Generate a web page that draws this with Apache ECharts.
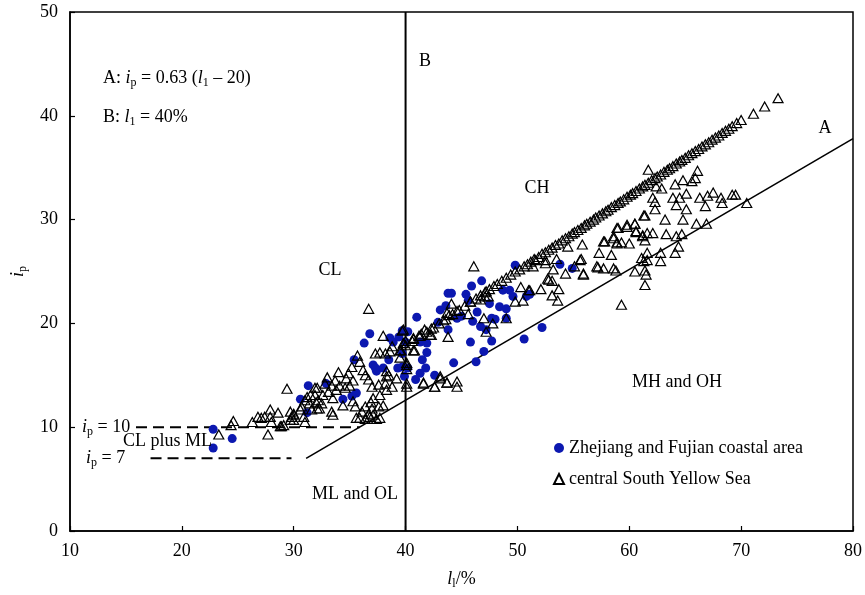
<!DOCTYPE html>
<html>
<head>
<meta charset="utf-8">
<script src="https://cdn.jsdelivr.net/npm/echarts@6/dist/echarts.min.js"></script>
<style>
  html, body { margin: 0; padding: 0; background: #fff; }
  #chart { width: 865px; height: 595px; }
</style>
</head>
<body>
<div id="chart"></div>
<script>
// Plasticity chart: liquid limit l_l (%) against plasticity index i_p

const X_TICKS = [10, 20, 30, 40, 50, 60, 70, 80];
const Y_TICKS = [0, 10, 20, 30, 40, 50];

// Zhejiang and Fujian coastal area samples [l_l, i_p]
const coastal = [
  [22.8,9.8],[24.5,8.9],[22.8,8.0],[31.3,14.0],[32.9,14.2],[30.6,12.7],[31.2,11.4],
  [35.4,16.5],[36.3,18.1],[36.8,19.0],[35.6,13.3],[34.4,12.7],[35.2,13.0],[37.1,16.0],
  [37.4,15.4],[38.0,15.7],[38.6,18.6],[38.9,18.2],[38.5,16.5],[39.3,15.7],[39.4,18.7],
  [39.7,17.1],[40.2,19.2],[40.2,15.7],[39.9,14.9],[41.0,20.6],[41.3,18.2],[41.9,18.1],
  [41.9,17.2],[41.5,16.5],[41.8,15.7],[41.3,15.2],[40.9,14.6],[42.6,15.0],[42.9,20.1],
  [43.1,21.3],[43.6,21.7],[43.8,19.4],[43.8,22.9],[49.8,25.6],[45.9,23.6],[46.8,24.1],
  [44.1,22.9],[45.4,22.8],[45.6,22.2],[44.6,20.5],[45.0,20.7],[46.4,21.1],[47.5,21.9],
  [48.4,21.6],[49.0,21.4],[48.7,23.2],[49.6,22.6],[50.8,22.6],[46.0,20.2],[46.7,19.7],
  [47.7,20.5],[48.0,20.4],[47.2,19.4],[45.8,18.2],[47.7,18.3],[47.0,17.3],[46.3,16.3],
  [50.6,18.5],[44.3,16.2],[40.0,18.2],[39.7,15.8],[53.8,25.7],[54.9,25.3],[52.2,19.6],
  [51.1,22.8],[49.3,23.2],[49.0,20.5],[39.7,19.3],[37.3,15.7]
];

// central South Yellow Sea samples [l_l, i_p]
const yellowSea = [
  // low plasticity group
  [23.3,9.3],[24.6,10.6],[24.4,10.2],[26.3,10.5],[26.8,11.0],[27.1,10.9],[27.4,11.0],
  [27.9,11.7],[27.9,11.0],[28.0,10.5],[28.6,11.4],[27.7,9.3],[28.9,10.1],[29.1,10.2],
  [29.4,13.7],[29.7,10.7],[30.0,11.3],[29.8,11.0],[30.6,11.7],[30.9,11.0],[31.0,10.5],
  [31.2,12.9],[31.6,11.7],[31.4,12.3],[31.9,13.8],[32.3,11.8],[32.0,12.4],
  // cluster around l_l = 30-44
  [36.7,21.4],[38.0,18.8],[39.7,19.3],[40.7,18.5],[42.2,18.9],[42.3,19.5],[40.8,17.4],
  [40.1,16.0],[40.1,14.2],[41.6,14.2],[42.6,13.9],[43.1,14.7],[43.7,14.3],[39.2,14.7],
  [38.3,14.9],[38.8,13.9],[37.3,17.1],[37.7,17.2],[38.2,17.1],[38.6,17.3],[39.5,17.4],
  [38.8,17.8],[35.9,16.3],[35.2,15.8],[36.2,15.5],[36.4,15.0],[36.7,14.6],[37.0,13.9],
  [37.6,14.1],[38.2,14.2],[38.3,13.6],[37.7,13.1],[37.1,12.8],[36.4,12.0],[37.0,11.8],
  [37.6,12.0],[38.0,12.1],[36.7,11.3],[37.1,11.2],[37.7,10.9],[35.6,10.9],[36.4,10.8],
  [36.8,11.0],[37.4,10.8],[35.0,14.0],[34.6,13.8],[34.7,14.7],[34.1,14.0],[33.7,14.5],
  [33.4,14.0],[33.8,13.6],[33.1,13.4],[32.6,13.1],[32.1,13.8],[31.9,13.1],[31.5,13.1],
  [31.0,12.6],[30.7,12.0],[32.5,12.3],[32.1,11.8],[33.4,11.5],[33.5,11.2],[34.4,12.1],
  [35.3,12.5],[35.5,12.0],[33.5,12.8],[32.2,12.6],[29.7,11.5],[30.0,11.2],[30.0,10.7],
  [28.8,10.1],[35.3,14.5],[34.9,15.2],[38.3,15.4],[38.5,15.0],[39.6,17.4],[39.8,18.1],
  [39.5,16.7],[41.3,18.8],[43.7,21.0],[35.9,10.9],[36.1,11.5],[36.9,12.4],[34.0,15.3],
  [35.7,16.9],[33.0,14.8],[32.8,14.2],
  // l_l = 40-51
  [46.1,25.5],[47.2,23.1],[47.1,22.6],[47.4,22.6],[46.7,22.3],[45.8,22.1],[49.8,22.1],
  [50.5,22.2],[51.0,23.2],[44.1,21.9],[44.6,21.2],[43.9,20.8],[45.6,20.9],[43.4,20.3],
  [47.0,20.5],[47.8,20.0],[49.0,20.5],[47.2,19.2],[43.8,18.7],[41.7,19.4],[41.4,19.0],
  [42.3,18.9],[40.7,18.6],[40.7,17.4],[39.8,19.4],[40.0,18.3],[40.1,16.2],[40.1,15.6],
  [40.1,13.9],[41.6,14.3],[43.1,14.9],[43.7,14.3],[44.6,14.4],[44.6,13.9],[42.6,13.9],
  // l_l = 50-62 below the band
  [55.8,27.6],[54.5,27.4],[52.5,25.8],[53.5,26.2],[55.7,26.2],[53.2,25.2],[54.3,24.8],
  [55.1,25.5],[55.9,24.8],[52.7,24.3],[53.1,24.1],[52.1,23.3],[53.1,22.7],[53.7,23.3],
  [53.6,22.2],[50.3,23.5],[57.3,26.8],[57.1,25.5],[57.7,25.3],[58.6,25.3],[58.8,25.1],
  [58.4,26.6],[58.9,27.8],[59.3,27.8],[57.7,27.9],[58.9,29.2],[59.8,29.5],[60.5,29.6],
  [60.6,28.9],[61.2,28.5],[61.1,26.3],[61.4,25.1],[60.5,25.0],[61.4,23.7],[59.3,21.8],
  [61.3,30.4],[52.5,26.1],[51.6,26.1],[51.4,25.5],[51.1,23.2],[52.8,24.2],[55.6,26.1],
  [55.9,24.7],[57.2,25.4],[58.6,28.2],[57.8,27.9],
  // l_l = 60-71 below the band
  [61.7,34.8],[66.1,34.7],[65.9,34.0],[65.6,33.7],[64.8,33.8],[64.1,33.4],[62.9,33.0],
  [62.4,33.2],[65.1,32.5],[64.5,32.1],[63.9,32.1],[64.2,31.4],[65.1,31.0],[66.3,32.1],
  [67.0,32.3],[67.5,32.6],[68.2,32.1],[68.3,31.6],[66.8,31.3],[69.2,32.4],[69.5,32.4],
  [70.5,31.6],[62.1,32.1],[62.3,31.0],[61.4,30.4],[63.2,30.0],[64.8,30.0],[66.0,29.6],
  [66.9,29.6],[63.3,28.6],[64.7,28.6],[62.1,28.7],[61.6,28.7],[61.2,28.4],[61.4,28.0],
  [60.5,29.6],[59.8,29.3],[59.0,29.2],[58.6,28.4],[58.9,27.7],[64.2,28.4],[64.4,27.4],
  [64.1,26.8],[62.8,26.8],[62.8,26.0],[61.6,26.8],[61.6,26.1],[61.3,26.0],[61.5,24.7],
  [62.3,31.7],[60.6,28.8],[60.0,27.7],
  // dense band
  [40.0,17.9],[40.6,18.3],[41.2,18.8],[41.9,19.2],[42.5,19.6],[43.0,20.0],[43.6,20.4],
  [44.2,20.9],[44.8,21.3],[45.3,21.7],[45.8,22.1],[46.3,22.4],[46.7,22.7],[47.1,23.0],
  [47.5,23.3],[47.9,23.6],[48.2,23.8],[48.6,24.1],[49.0,24.4],[49.4,24.7],[49.8,25.0],
  [50.2,25.2],[50.6,25.5],[50.9,25.7],
  [51.2,25.95],[51.5,26.2],[51.9,26.4],[52.2,26.7],[52.5,26.85],[52.8,27.1],[53.1,27.3],
  [53.4,27.55],[53.7,27.7],[54.0,28.0],[54.3,28.2],[54.6,28.4],[54.9,28.65],[55.1,28.8],
  [55.4,29.0],[55.7,29.2],[56.0,29.45],[56.2,29.6],[56.5,29.8],[56.8,30.0],[57.0,30.2],
  [57.3,30.4],[57.6,30.6],[57.9,30.8],[58.1,30.95],[58.4,31.2],[58.7,31.4],[59.0,31.6],
  [59.2,31.75],[59.5,31.95],[59.8,32.2],[60.1,32.4],[60.3,32.55],[60.6,32.75],[60.9,33.0],
  [61.2,33.2],[61.4,33.35],[61.7,33.55],[62.0,33.8],[62.3,34.0],[62.5,34.15],[62.8,34.35],
  [63.1,34.6],[63.4,34.8],[63.6,34.95],[63.9,35.15],[64.2,35.4],[64.5,35.6],[64.7,35.75],
  [65.0,35.95],[65.3,36.2],[65.6,36.4],[65.9,36.6],[66.2,36.8],[66.5,37.05],[66.8,37.25],
  [67.1,37.45],[67.4,37.7],[67.7,37.9],[68.0,38.1],[68.3,38.35],[68.6,38.55],[68.9,38.75],
  [69.2,39.0],[69.6,39.3],[70.0,39.6],[71.1,40.2],[72.1,40.9],[73.3,41.7]
];

// A-line: i_p = 0.63 (l_l - 20), drawn from i_p = 7 to the right edge
const A_SLOPE = 0.63, A_OFFSET = 20;
const A_START = 31.11, A_END = 80;
const lineA = [[A_START, A_SLOPE * (A_START - A_OFFSET)], [A_END, A_SLOPE * (A_END - A_OFFSET)]];
// B-line: l_l = 40 %
const lineB = [[40, 0], [40, 50]];
// i_p = 10 and i_p = 7 boundaries of the CL plus ML zone
const ip10 = [[15.9, 10], [35.9, 10]];
const ip7 = [[17.2, 7], [29.8, 7]];

const F = 'Liberation Serif';
const FS = 18;

function rich(size) {
  return {
    n: { fontFamily: F, fontSize: size, lineHeight: 22, color: '#000' },
    it: { fontFamily: F, fontSize: size, lineHeight: 22, fontStyle: 'italic', color: '#000' },
    s: { fontFamily: F, fontSize: 12, lineHeight: 12, verticalAlign: 'bottom', color: '#000' }
  };
}

function label(x, y, text, align) {
  return {
    type: 'text', x: x, y: y, z: 100,
    style: {
      text: text, rich: rich(FS), align: align || 'left', verticalAlign: 'middle',
      fontFamily: F, fontSize: FS, fill: '#000'
    }
  };
}

const chart = echarts.init(document.getElementById('chart'), null, { renderer: 'canvas' });

const axisCommon = {
  type: 'value',
  axisLine: { show: true, lineStyle: { color: '#000', width: 1.5 } },
  axisTick: { show: true, inside: true, length: 5, lineStyle: { color: '#000', width: 1.2 } },
  axisLabel: { color: '#000', fontFamily: F, fontSize: FS },
  splitLine: { show: false }
};

chart.setOption({
  animation: false,
  backgroundColor: '#fff',
  grid: { left: 70, right: 12, top: 12, bottom: 64, show: true, borderColor: '#000', borderWidth: 1.5 },
  xAxis: Object.assign({}, axisCommon, {
    min: X_TICKS[0], max: X_TICKS[X_TICKS.length - 1], interval: 10,
    axisLabel: Object.assign({}, axisCommon.axisLabel, { margin: 11 }),
    name: '{it|l}{s|l}{n|/%}', nameLocation: 'middle', nameGap: 37,
    nameTextStyle: { rich: rich(FS) }
  }),
  yAxis: Object.assign({}, axisCommon, {
    min: Y_TICKS[0], max: Y_TICKS[Y_TICKS.length - 1], interval: 10,
    axisLabel: Object.assign({}, axisCommon.axisLabel, { margin: 12 }),
    name: '{it|i}{s|p}', nameLocation: 'middle', nameGap: 38, nameRotate: 90,
    nameTextStyle: { rich: rich(FS) }
  }),
  legend: {
    data: ['Zhejiang and Fujian coastal area', 'central South Yellow Sea'],
    orient: 'vertical', left: 548, top: 434, itemGap: 13,
    itemWidth: 10, itemHeight: 10,
    textStyle: { fontFamily: F, fontSize: FS, color: '#000' }
  },
  series: [
    {
      name: 'Zhejiang and Fujian coastal area', type: 'scatter', data: coastal,
      symbol: 'circle', symbolSize: 9, z: 3,
      itemStyle: { color: '#0c18b0', opacity: 1 }
    },
    {
      name: 'central South Yellow Sea', type: 'scatter', data: yellowSea,
      symbol: 'triangle', symbolSize: [10, 9], z: 4,
      itemStyle: { color: 'rgba(255,255,255,0)', borderColor: '#000', borderWidth: 1.2, opacity: 1 }
    },
    {
      name: 'A', type: 'line', data: lineA, symbol: 'none', silent: true, z: 2,
      lineStyle: { color: '#000', width: 1.6 }
    },
    {
      name: 'B', type: 'line', data: lineB, symbol: 'none', silent: true, z: 2,
      lineStyle: { color: '#000', width: 2 }
    },
    {
      name: 'ip10', type: 'line', data: ip10, symbol: 'none', silent: true, z: 2,
      lineStyle: { color: '#000', width: 2, type: [11, 6] }
    },
    {
      name: 'ip7', type: 'line', data: ip7, symbol: 'none', silent: true, z: 2,
      lineStyle: { color: '#000', width: 2, type: [11, 6] }
    }
  ],
  graphic: [
    label(103, 78, '{n|A: }{it|i}{s|p}{n| = 0.63 (}{it|l}{s|1}{n| – 20)}'),
    label(103, 117, '{n|B: }{it|l}{s|1}{n| = 40%}'),
    label(425, 61, '{n|B}', 'center'),
    label(825, 128, '{n|A}', 'center'),
    label(537, 188, '{n|CH}', 'center'),
    label(330, 270, '{n|CL}', 'center'),
    label(677, 382, '{n|MH and OH}', 'center'),
    label(123, 441, '{n|CL plus ML}'),
    label(355, 494, '{n|ML and OL}', 'center'),
    label(82, 427, '{it|i}{s|p}{n| = 10}'),
    label(86, 458, '{it|i}{s|p}{n| = 7}')
  ]
});
</script>
</body>
</html>
